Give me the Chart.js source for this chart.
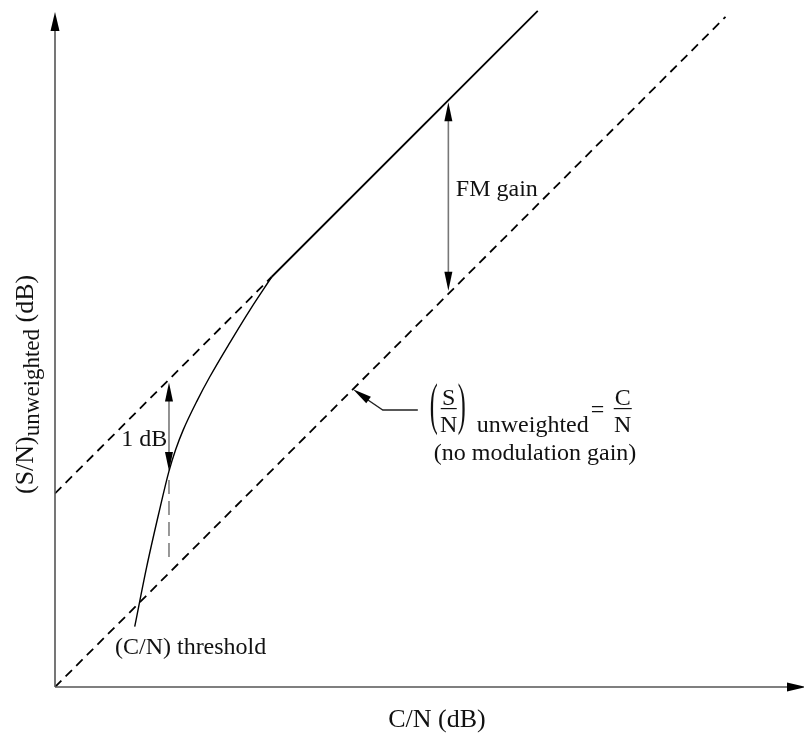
<!DOCTYPE html>
<html>
<head>
<meta charset="utf-8">
<script src="https://cdn.jsdelivr.net/npm/chart.js@4/dist/chart.umd.min.js"></script>
<style>
  html, body { margin: 0; padding: 0; background: #fff; }
  #wrap { width: 804px; height: 734px; }
</style>
</head>
<body>
<div id="wrap"><canvas id="fmChart" width="804" height="734"></canvas></div>
<script>
// C/N (dB) and (S/N) (dB) values, arbitrary dB units
const noGainCN = [0, 90];
const noGainSN = [0, 90];

const asymCN = [0, 29.1];
const asymSN = [26, 55.1];

const curveCN = [10.7, 12.3, 13.9, 15.3, 16.2, 17.2, 19.1, 20.8, 23.5, 26.2, 29.1];
const curveSN = [8.1, 16.1, 23.2, 29.0, 31.9, 34.5, 38.5, 41.7, 46.3, 50.7, 55.1];

const aboveCN = [29.1, 64.8];
const aboveSN = [55.1, 90.8];

// annotation values
const fmGainCN = 52.8;        // where the FM gain arrow sits
const thresholdCN = 15.3;     // where the 1 dB arrow sits
const thresholdSN = 29.0;

const pts = (xs, ys) => xs.map((v, i) => ({ x: v, y: ys[i] }));

const serif = "'Liberation Serif', 'Times New Roman', serif";

function arrowHead(ctx, tx, ty, fx, fy, len, half) {
    // tip at (tx,ty), pointing away from (fx,fy)
    const ang = Math.atan2(ty - fy, tx - fx);
    ctx.save();
    ctx.translate(tx, ty);
    ctx.rotate(ang);
    ctx.beginPath();
    ctx.moveTo(0, 0);
    ctx.lineTo(-len, -half);
    ctx.lineTo(-len, half);
    ctx.closePath();
    ctx.fillStyle = '#000';
    ctx.fill();
    ctx.restore();
}

function doubleArrow(ctx, x, y1, y2) {
    ctx.save();
    ctx.strokeStyle = '#777';
    ctx.lineWidth = 1.6;
    ctx.beginPath();
    ctx.moveTo(x, y1 + 8);
    ctx.lineTo(x, y2 - 8);
    ctx.stroke();
    ctx.restore();
    arrowHead(ctx, x, y1, x, y1 + 10, 19, 4);
    arrowHead(ctx, x, y2, x, y2 - 10, 19, 4);
}

const notes = {
    id: 'notes',
    afterDatasetsDraw(chart) {
        const { ctx, chartArea: a, scales: { x, y } } = chart;
        const px = v => x.getPixelForValue(v);
        const py = v => y.getPixelForValue(v);

        // axes with arrows
        ctx.save();
        ctx.strokeStyle = '#555';
        ctx.lineWidth = 1.6;
        ctx.beginPath();
        ctx.moveTo(a.left, a.bottom);
        ctx.lineTo(a.left, a.top + 20);
        ctx.moveTo(a.left, a.bottom);
        ctx.lineTo(a.right - 5, a.bottom);
        ctx.stroke();
        ctx.restore();
        arrowHead(ctx, a.left, a.top + 10, a.left, a.top + 30, 19, 4.5);
        arrowHead(ctx, a.right + 6, a.bottom, a.right - 10, a.bottom, 19, 4.5);

        // FM gain arrow
        doubleArrow(ctx, px(fmGainCN), py(fmGainCN + asymSN[0]) + 2, py(fmGainCN) - 3);

        // 1 dB arrow and dashed drop
        doubleArrow(ctx, px(thresholdCN), py(thresholdCN + asymSN[0]) + 3, py(thresholdSN));
        ctx.save();
        ctx.strokeStyle = '#777';
        ctx.lineWidth = 1.5;
        ctx.setLineDash([14, 7]);
        ctx.beginPath();
        ctx.moveTo(px(thresholdCN), py(thresholdSN) + 9);
        ctx.lineTo(px(thresholdCN), py(16.6));
        ctx.stroke();
        ctx.restore();

        // pointer to the no-gain line
        ctx.save();
        ctx.strokeStyle = '#222';
        ctx.lineWidth = 1.3;
        ctx.beginPath();
        ctx.moveTo(px(48.7), py(37.2));
        ctx.lineTo(px(44.0), py(37.2));
        ctx.lineTo(px(40.0) + 8, py(40.0) + 6);
        ctx.stroke();
        ctx.restore();
        arrowHead(ctx, px(40.0), py(40.0), px(44.0), py(37.2), 19, 4);

        // texts
        ctx.save();
        ctx.fillStyle = '#111';
        ctx.font = '24px ' + serif;
        ctx.textBaseline = 'alphabetic';
        ctx.textAlign = 'left';
        ctx.fillText('FM gain', px(53.8), py(65.9));
        ctx.fillText('1 dB', px(8.9), py(32.4));
        ctx.fillText('(C/N) threshold', px(8.05), py(4.4));

        // (S/N) unweighted = C/N
        const ex = px(50.3), eb = py(34.25);
        ctx.save();
        ctx.translate(ex, eb - 24);
        ctx.scale(1, 2.4);
        ctx.textBaseline = 'middle';
        ctx.fillText('(', 0, 0);
        ctx.fillText(')', 28, 0);
        ctx.restore();
        ctx.textAlign = 'center';
        ctx.fillText('S', ex + 19, eb - 27);
        ctx.fillText('N', ex + 19, eb);
        ctx.fillText('C', ex + 193, eb - 27);
        ctx.fillText('N', ex + 193, eb);
        ctx.textAlign = 'left';
        ctx.fillText('unweighted', ex + 47, eb);
        ctx.fillText('=', ex + 161, eb - 15);
        ctx.fillRect(ex + 11, eb - 24, 16, 1.2);
        ctx.fillRect(ex + 184, eb - 24, 18, 1.2);
        ctx.fillText('(no modulation gain)', ex + 4, eb + 28);

        // axis titles
        ctx.font = '26px ' + serif;
        ctx.textAlign = 'center';
        ctx.fillText('C/N (dB)', a.left + 382, a.bottom + 40);
        ctx.restore();

        ctx.save();
        ctx.fillStyle = '#111';
        ctx.translate(a.left - 22, a.bottom - 193);
        ctx.rotate(-Math.PI / 2);
        ctx.textAlign = 'left';
        ctx.font = '26px ' + serif;
        const w1 = ctx.measureText('(S/N)').width;
        ctx.fillText('(S/N)', 0, 0);
        ctx.font = '23px ' + serif;
        const w2 = ctx.measureText('unweighted').width;
        ctx.fillText('unweighted', w1, 6);
        ctx.font = '26px ' + serif;
        ctx.fillText(' (dB)', w1 + w2, 0);
        ctx.restore();
    }
};

new Chart(document.getElementById('fmChart'), {
    type: 'scatter',
    data: {
        datasets: [
            {
                label: 'No modulation gain',
                data: pts(noGainCN, noGainSN),
                showLine: true,
                borderColor: '#000',
                borderWidth: 1.8,
                borderDash: [9, 6],
                pointRadius: 0
            },
            {
                label: 'Asymptote',
                data: pts(asymCN, asymSN),
                showLine: true,
                borderColor: '#000',
                borderWidth: 1.8,
                borderDash: [9, 6],
                pointRadius: 0
            },
            {
                label: 'FM below threshold',
                data: pts(curveCN, curveSN),
                showLine: true,
                borderColor: '#000',
                borderWidth: 1.4,
                cubicInterpolationMode: 'monotone',
                pointRadius: 0
            },
            {
                label: 'FM above threshold',
                data: pts(aboveCN, aboveSN),
                showLine: true,
                borderColor: '#000',
                borderWidth: 1.8,
                pointRadius: 0
            }
        ]
    },
    options: {
        responsive: false,
        animation: false,
        devicePixelRatio: 1,
        layout: {
            padding: { left: 55, right: 4, top: 2, bottom: 47 }
        },
        scales: {
            x: { type: 'linear', min: 0, max: 100, display: false },
            y: { type: 'linear', min: 0, max: 92, display: false }
        },
        plugins: {
            legend: { display: false },
            tooltip: { enabled: false }
        }
    },
    plugins: [notes]
});
</script>
</body>
</html>
